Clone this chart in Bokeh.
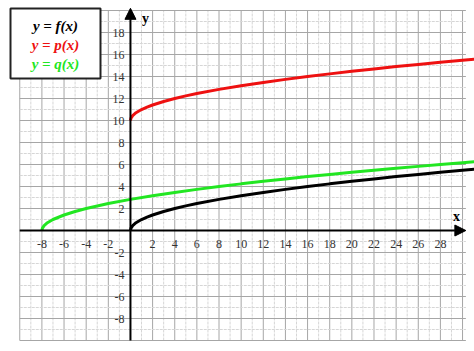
from bokeh.plotting import figure
from bokeh.models import Arrow, NormalHead, Label, BoxAnnotation, Range1d
from bokeh.core.properties import value
from bokeh.embed import file_html
from bokeh.resources import INLINE

# ---- data ----
f_x = [0, 0.05, 0.2, 0.5, 1, 1.5, 2, 3, 4, 5, 6, 8, 10, 12, 14, 16, 18, 20, 22, 24, 26, 28, 30, 31.5]
f_y = [0, 0.22, 0.45, 0.71, 1.0, 1.22, 1.41, 1.73, 2.0, 2.24, 2.45, 2.83, 3.16, 3.46, 3.74, 4.0,
       4.24, 4.47, 4.69, 4.9, 5.1, 5.29, 5.48, 5.61]
p_x = [0, 0.05, 0.2, 0.5, 1, 1.5, 2, 3, 4, 5, 6, 8, 10, 12, 14, 16, 18, 20, 22, 24, 26, 28, 30, 31.5]
p_y = [10.0, 10.22, 10.45, 10.71, 11.0, 11.22, 11.41, 11.73, 12.0, 12.24, 12.45, 12.83, 13.16, 13.46,
       13.74, 14.0, 14.24, 14.47, 14.69, 14.9, 15.1, 15.29, 15.48, 15.61]
q_x = [-8, -7.95, -7.8, -7.5, -7, -6, -5, -4, -2, 0, 2, 4, 6, 8, 10, 12, 14, 16, 18, 20, 22, 24, 26,
       28, 30, 31.5]
q_y = [0, 0.22, 0.45, 0.71, 1.0, 1.41, 1.73, 2.0, 2.45, 2.83, 3.16, 3.46, 3.74, 4.0, 4.24, 4.47,
       4.69, 4.9, 5.1, 5.29, 5.48, 5.66, 5.83, 6.0, 6.16, 6.28]

x_tick_vals = [-8, -6, -4, -2, 2, 4, 6, 8, 10, 12, 14, 16, 18, 20, 22, 24, 26, 28]
x_tick_labels = [str(v) for v in x_tick_vals]
y_tick_vals = [-8, -6, -4, -2, 2, 4, 6, 8, 10, 12, 14, 16, 18]
y_tick_labels = [str(v) for v in y_tick_vals]

grid_x = list(range(-10, 31))
grid_y = list(range(-10, 21))
legend_labels = ["y = f(x)", "y = p(x)", "y = q(x)"]
legend_colors = ["black", "#ee1111", "#22e622"]

SERIF = "serif"
W, H = 474, 351
p = figure(width=W, height=H, output_backend="svg", toolbar_location=None,
           x_axis_type=None, y_axis_type=None, min_border=0,
           x_range=Range1d(-11.74, 31.08), y_range=Range1d(-11.0, 20.91))
p.outline_line_color = None
p.background_fill_color = "white"
p.border_fill_color = "white"

# grid
for gx in grid_x:
    major = gx % 2 == 0
    p.segment(x0=[gx], y0=[grid_y[0]], x1=[gx], y1=[grid_y[-1]],
              line_color="#a6a6a6" if major else "#d6d6d6", line_width=1,
              line_dash="solid" if major else "3 1")
for gy in grid_y:
    major = gy % 2 == 0
    p.segment(x0=[grid_x[0]], y0=[gy], x1=[grid_x[-1] + 0.3], y1=[gy],
              line_color="#a6a6a6" if major else "#d6d6d6", line_width=1,
              line_dash="solid" if major else "3 1")

# axes with arrows
p.add_layout(Arrow(end=NormalHead(size=11, fill_color="black", line_color="black"),
                   x_start=grid_x[0], y_start=0, x_end=grid_x[-1] + 0.3, y_end=0,
                   line_color="black", line_width=2))
p.add_layout(Arrow(end=NormalHead(size=11, fill_color="black", line_color="black"),
                   x_start=0, y_start=grid_y[0], x_end=0, y_end=grid_y[-1] + 0.2,
                   line_color="black", line_width=2))

# curves
p.line(f_x, f_y, line_color=legend_colors[0], line_width=3)
p.line(p_x, p_y, line_color=legend_colors[1], line_width=3)
p.line(q_x, q_y, line_color=legend_colors[2], line_width=3)

# tick labels
p.text(x=x_tick_vals, y=[0] * len(x_tick_vals), text=x_tick_labels, y_offset=13,
       text_align="center", text_baseline="middle", text_font=value(SERIF),
       text_font_size="12px", text_color="#333333")
p.text(x=[0] * len(y_tick_vals), y=y_tick_vals, text=y_tick_labels, x_offset=-6,
       text_align="right", text_baseline="middle", text_font=value(SERIF),
       text_font_size="12px", text_color="#333333")

# axis names
p.add_layout(Label(x=W - 18, y=H - 216, x_units="screen", y_units="screen", text="x",
                   text_font=SERIF, text_font_style="bold", text_font_size="14px",
                   text_align="center", text_baseline="middle", text_color="black"))
p.add_layout(Label(x=145, y=H - 18, x_units="screen", y_units="screen", text="y",
                   text_font=SERIF, text_font_style="bold", text_font_size="14px",
                   text_align="center", text_baseline="middle", text_color="black"))

# legend box
p.add_layout(BoxAnnotation(left=10, right=100, top=H - 8, bottom=H - 78,
                           left_units="screen", right_units="screen",
                           top_units="screen", bottom_units="screen",
                           fill_color="white", fill_alpha=1.0,
                           line_color="#222222", line_alpha=1.0, line_width=2))
for i, (lab, col) in enumerate(zip(legend_labels, legend_colors)):
    p.add_layout(Label(x=55, y=H - (25 + 19 * i), x_units="screen", y_units="screen",
                       text=lab, text_font=SERIF, text_font_style="bold italic",
                       text_font_size="15px", text_align="center", text_baseline="middle",
                       text_color=col))

open("out.html", "w").write(file_html(p, INLINE))
